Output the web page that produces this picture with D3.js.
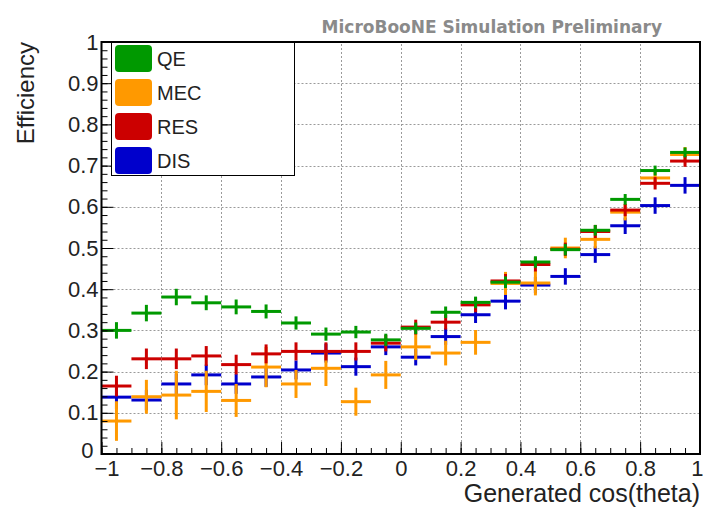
<!DOCTYPE html>
<html><head><meta charset="utf-8">
<script src="https://cdn.jsdelivr.net/npm/d3@7"></script>
<style>
body{margin:0;background:#fff;}
svg{display:block;font-family:"Liberation Sans",Arial,Helvetica,sans-serif;}
</style>
</head><body>
<svg id="chart" width="703" height="509"></svg>
<script>
// ---- data ----
const binCenters = [-0.95,-0.85,-0.75,-0.65,-0.55,-0.45,-0.35,-0.25,-0.15,-0.05,0.05,0.15,0.25,0.35,0.45,0.55,0.65,0.75,0.85,0.95];
const binWidth = 0.1;
const seriesNames = ["QE","MEC","RES","DIS"];
const seriesColors = ["#009900","#ff9900","#cc0000","#0000cc"];
const qeEff  = [0.300,0.342,0.381,0.367,0.357,0.346,0.318,0.291,0.296,0.277,0.305,0.344,0.368,0.417,0.466,0.496,0.543,0.618,0.688,0.732];
const qeErr  = [0.020,0.020,0.020,0.018,0.018,0.017,0.016,0.016,0.015,0.015,0.014,0.014,0.014,0.014,0.014,0.014,0.013,0.013,0.012,0.012];
const mecEff = [0.080,0.139,0.143,0.152,0.130,0.211,0.170,0.208,0.127,0.192,0.260,0.245,0.271,0.414,0.415,0.500,0.521,0.587,0.670,0.727];
const mecErr = [0.048,0.041,0.059,0.050,0.040,0.049,0.034,0.043,0.034,0.034,0.032,0.030,0.030,0.028,0.030,0.025,0.022,0.020,0.018,0.018];
const resEff = [0.165,0.231,0.231,0.238,0.217,0.243,0.249,0.249,0.249,0.269,0.308,0.320,0.362,0.420,0.460,0.497,0.540,0.592,0.657,0.711];
const resErr = [0.025,0.025,0.025,0.024,0.024,0.023,0.022,0.022,0.022,0.020,0.018,0.018,0.018,0.017,0.017,0.016,0.016,0.015,0.015,0.014];
const disEff = [0.138,0.131,0.170,0.192,0.170,0.187,0.204,0.245,0.212,0.260,0.235,0.285,0.338,0.371,0.410,0.431,0.484,0.554,0.603,0.652];
const disErr = [0.030,0.025,0.025,0.025,0.024,0.024,0.023,0.023,0.022,0.020,0.020,0.020,0.020,0.020,0.020,0.020,0.020,0.020,0.020,0.020];
const xMajorTicks = [-1,-0.8,-0.6,-0.4,-0.2,0,0.2,0.4,0.6,0.8,1];
const xTickLabels = ["\u22121","\u22120.8","\u22120.6","\u22120.4","\u22120.2","0","0.2","0.4","0.6","0.8","1"];
const yMajorTicks = [0,0.1,0.2,0.3,0.4,0.5,0.6,0.7,0.8,0.9,1];
const yTickLabels = ["0","0.1","0.2","0.3","0.4","0.5","0.6","0.7","0.8","0.9","1"];
const xTitle = "Generated cos(theta)";
const yTitle = "Efficiency";
const topLabel = "MicroBooNE Simulation Preliminary";

const series = [
  {name:"QE",  eff:qeEff,  err:qeErr,  color:seriesColors[0]},
  {name:"MEC", eff:mecEff, err:mecErr, color:seriesColors[1]},
  {name:"RES", eff:resEff, err:resErr, color:seriesColors[2]},
  {name:"DIS", eff:disEff, err:disErr, color:seriesColors[3]}
];
const drawOrder = ["DIS","MEC","RES","QE"];

// ---- layout ----
const svg = d3.select("#chart");
const x = d3.scaleLinear().domain([-1,1]).range([101.5,700]);
const y = d3.scaleLinear().domain([0,1]).range([454,42]);

// grid
const grid = svg.append("g").attr("stroke","#9a9a9a").attr("stroke-width",1).attr("stroke-dasharray","2,2");
grid.selectAll("line.gx").data(xMajorTicks.slice(1,-1)).join("line")
  .attr("x1",d=>Math.round(x(d))+0.5).attr("x2",d=>Math.round(x(d))+0.5)
  .attr("y1",y(0)).attr("y2",y(1));
grid.selectAll("line.gy").data(yMajorTicks.slice(1,-1)).join("line")
  .attr("y1",d=>Math.round(y(d))+0.5).attr("y2",d=>Math.round(y(d))+0.5)
  .attr("x1",x(-1)).attr("x2",x(1));

// data
const dataG = svg.append("g");
drawOrder.forEach(nm=>{
  const s = series.find(t=>t.name===nm);
  const g = dataG.append("g").attr("stroke",s.color).attr("stroke-width",3);
  const pts = binCenters.map((c,i)=>({c, v:s.eff[i], e:s.err[i]}));
  g.selectAll("line.h").data(pts).join("line")
    .attr("x1",d=>x(d.c-binWidth/2)).attr("x2",d=>x(d.c+binWidth/2))
    .attr("y1",d=>y(d.v)).attr("y2",d=>y(d.v));
  g.selectAll("line.v").data(pts).join("line")
    .attr("x1",d=>x(d.c)).attr("x2",d=>x(d.c))
    .attr("y1",d=>y(d.v-d.e)).attr("y2",d=>y(d.v+d.e));
});

// axes
const yMinor = d3.range(0,1.0001,0.02);
const xMinor = d3.range(-1,1.0001,0.05);
svg.append("g").attr("transform",`translate(${x(-1)},0)`)
  .call(d3.axisLeft(y).tickValues(yMinor).tickSize(-6).tickSizeOuter(0).tickFormat(""))
  .call(g=>g.select(".domain").remove());
svg.append("g").attr("transform",`translate(${x(-1)},0)`)
  .call(d3.axisLeft(y).tickValues(yMajorTicks).tickSize(-12).tickSizeOuter(0).tickPadding(3)
        .tickFormat((d,i)=>yTickLabels[i]))
  .call(g=>g.select(".domain").remove())
  .call(g=>g.selectAll("text").attr("font-size",22).attr("fill","#222").attr("font-family","Liberation Sans, Arial, sans-serif"))
  .call(g=>g.selectAll(".tick").filter(d=>d===0).select("text").attr("y",-4).attr("x",-8));
svg.append("g").attr("transform",`translate(0,${y(0)})`)
  .call(d3.axisBottom(x).tickValues(xMinor).tickSize(-6).tickSizeOuter(0).tickFormat(""))
  .call(g=>g.select(".domain").remove());
svg.append("g").attr("transform",`translate(0,${y(0)})`)
  .call(d3.axisBottom(x).tickValues(xMajorTicks).tickSize(-12).tickSizeOuter(0).tickPadding(6)
        .tickFormat((d,i)=>xTickLabels[i]))
  .call(g=>g.select(".domain").remove())
  .call(g=>g.selectAll("text").attr("font-size",22).attr("fill","#222").attr("font-family","Liberation Sans, Arial, sans-serif"))
  .call(g=>g.selectAll(".tick").filter(d=>d===1).select("text").attr("text-anchor","end").attr("x",3))
  .call(g=>g.selectAll(".tick").filter(d=>d===-1).select("text").attr("x",5));

// frame
svg.append("rect").attr("x",x(-1)).attr("y",y(1)).attr("width",x(1)-x(-1)).attr("height",y(0)-y(1))
  .attr("fill","none").attr("stroke","#000").attr("stroke-width",2);

// legend
const leg = svg.append("g");
leg.append("rect").attr("x",111.5).attr("y",42.5).attr("width",183).attr("height",133)
  .attr("fill","#fff").attr("stroke","#000").attr("stroke-width",1);
series.forEach((s,i)=>{
  const ty = 45 + i*34;
  leg.append("rect").attr("x",115).attr("y",ty).attr("width",37).attr("height",27).attr("rx",4)
    .attr("fill",s.color);
  leg.append("text").attr("x",157).attr("y",ty+13.5).attr("dy","0.35em")
    .attr("font-size",20).attr("fill","#222").text(s.name);
});

// titles
svg.append("text").attr("x",700).attr("y",502).attr("text-anchor","end")
  .attr("font-size",25).attr("fill","#222").text(xTitle);
svg.append("text").attr("transform","translate(34,42) rotate(-90)").attr("text-anchor","end")
  .attr("font-size",24).attr("fill","#222").text(yTitle);
svg.append("text").attr("x",662).attr("y",33).attr("text-anchor","end")
  .attr("font-family","DejaVu Sans").attr("font-weight","bold").attr("font-size",17)
  .attr("fill","#8a8a8a").text(topLabel);
</script>
</body></html>
